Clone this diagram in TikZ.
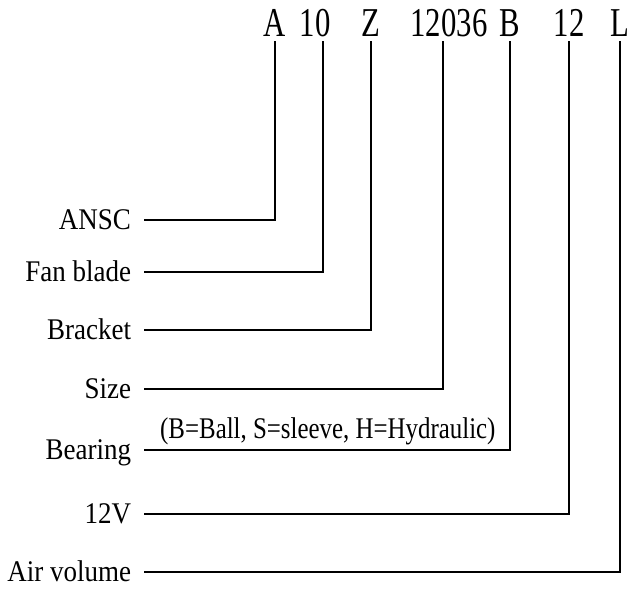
\documentclass[tikz,border=0pt]{standalone}
\usepackage{fontspec}
\setmainfont[FakeStretch=0.9]{Liberation Serif}
\newfontfamily\codefont[FakeStretch=0.75]{Liberation Serif}
\newfontfamily\notefont[FakeStretch=0.83]{Liberation Serif}
\usepackage{tikz}

\begin{document}
\begin{tikzpicture}[x=1pt,y=-1pt]
	\useasboundingbox (0,0) rectangle (632,591);
	\begin{scope}[every node/.style={anchor=base,inner sep=0pt,outer ysep=4pt,text depth=0pt,
				font=\codefont\fontsize{41}{44}\selectfont}]
		% model code
		\node (cA) at (275,37) {A};
		\node (c10) at (315,37) {10};
		\node (cZ) at (371,37) {Z};
		\node (c12036) at (449,37) {12036};
		\node (cB) at (510,37) {B};
		\node (c12) at (569,37) {12};
		\node (cL) at (620,37) {L};
	\end{scope}

	\begin{scope}[every node/.style={anchor=east,inner sep=0pt,outer xsep=13pt,
				text height=19pt,text depth=0pt,font=\fontsize{30}{33}\selectfont}]
		% labels, one per line
		\node (ansc) at (144,220) {ANSC};
		\node (blade) at (144,272) {Fan blade};
		\node (bracket) at (144,330) {Bracket};
		\node (size) at (144,389) {Size};
		\node (bearing) at (144,450) {Bearing};
		\node (volt) at (144,514) {12V};
		\node (air) at (144,572) {Air volume};
	\end{scope}

	\node[anchor=base west,inner sep=0pt,font=\notefont\fontsize{30}{33}\selectfont]
		(bearnote) at (160,438) {(B=Ball, S=sleeve, H=Hydraulic)};

	\begin{scope}[line width=2.9pt]
		\draw (ansc) -| (cA.south);
		\draw (blade) -| ([xshift=8pt]c10.south);
		\draw (bracket) -| (cZ.south);
		\draw (size) -| ([xshift=-6pt]c12036.south);
		\draw (bearing) -| (cB.south);
		\draw (volt) -| (c12.south);
		\draw (air) -| (cL.south);
	\end{scope}
\end{tikzpicture}
\end{document}
